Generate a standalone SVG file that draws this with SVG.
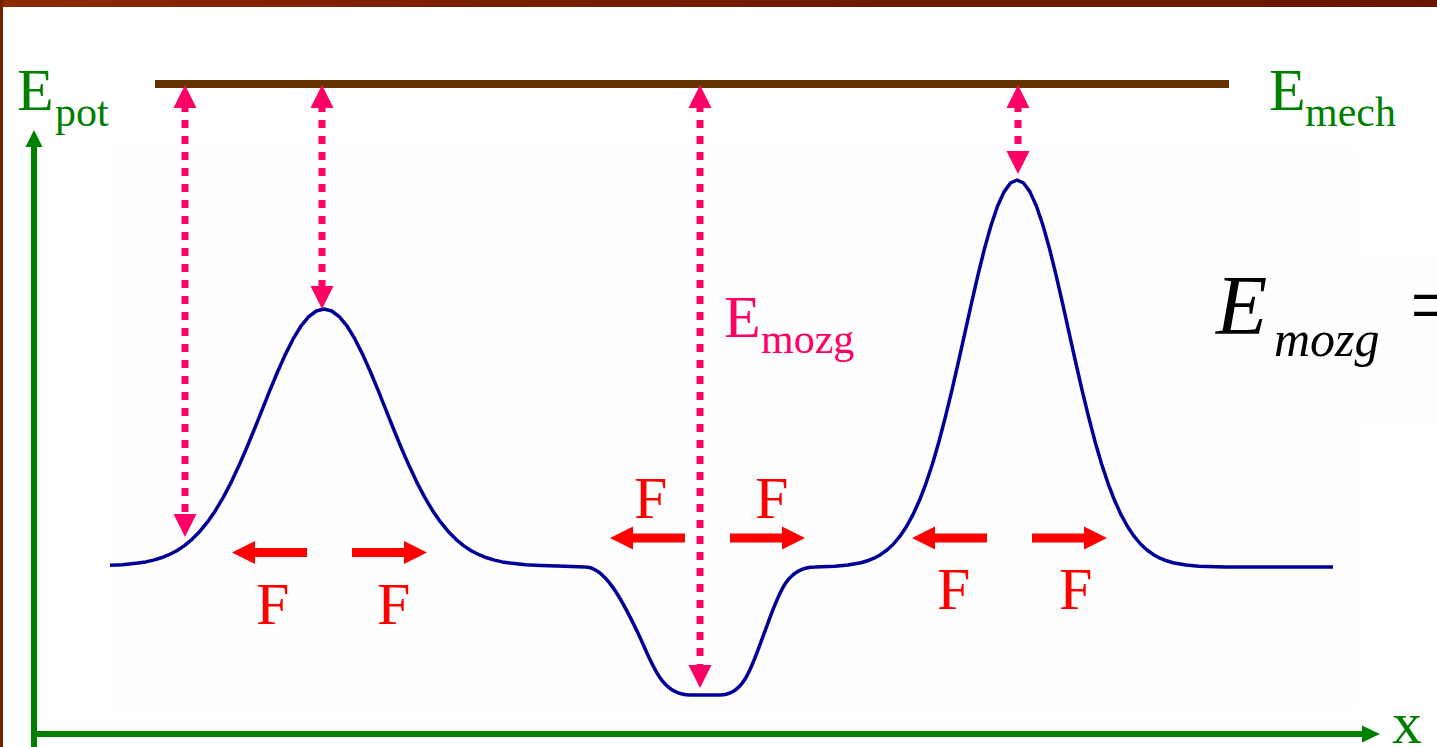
<svg xmlns="http://www.w3.org/2000/svg" xmlns:xlink="http://www.w3.org/1999/xlink" width="1437" height="747" viewBox="0 0 1437 747">
<style>
text{font-family:"Liberation Serif","Times New Roman",serif}
.green{fill:#008000}
.pink{fill:#ff0066}
.red{fill:#ff0000}
.dash{stroke:#ff0066;stroke-width:7;stroke-dasharray:8 8;fill:none}
.axis{stroke:#008000;stroke-width:6;fill:none}
.curve{stroke:#000099;stroke-width:3.5;fill:none;stroke-linejoin:round}
</style>
<defs>
<linearGradient id="wood" x1="0" y1="0" x2="1" y2="0">
<stop offset="0" stop-color="#8a2c06"/>
<stop offset="0.3" stop-color="#7a2000"/>
<stop offset="0.6" stop-color="#6e1a02"/>
<stop offset="1" stop-color="#6a1500"/>
</linearGradient>
<path id="fl" d="M0 0 L23 -11.5 L23 -4.5 L75 -4.5 L75 4.5 L23 4.5 L23 11.5 Z"/>
<path id="hu" d="M0 0 L-11.5 23 L11.5 23 Z"/>
</defs>
<rect width="1437" height="747" fill="#ffffff"/>
<rect x="0" y="0" width="1437" height="7" fill="url(#wood)"/>
<rect x="0" y="0" width="3" height="747" fill="#7a2000"/>
<rect x="110" y="145" width="1247" height="565" fill="#fefefe"/>
<rect x="1200" y="255" width="237" height="170" fill="#fefefe"/>

<g id="axes">
<line class="axis" x1="34" y1="747" x2="34" y2="146"/>
<polygon points="34,130 25.5,147 42.5,147" fill="#008000"/>
<line class="axis" x1="31" y1="734" x2="1363" y2="734"/>
<polygon points="1380,734 1362,725.5 1362,742.5" fill="#008000"/>
</g>

<g id="label-epot"><text class="green" x="17" y="110" font-size="60">E<tspan x="55" y="126" font-size="42">pot</tspan></text></g>
<g id="label-x"><text class="green" x="1392" y="743" font-size="60">x</text></g>

<g id="emech">
<line x1="155" y1="84" x2="1229" y2="84" stroke="#663300" stroke-width="8"/>
<text class="green" x="1269" y="110" font-size="60">E<tspan x="1305" y="126" font-size="42">mech</tspan></text>
</g>

<g id="potential-curve">
<path class="curve" d="M110 565.3 L122.5 564.7 L138 563.1 L145.75 561.9 L153.5 560.1 L161.25 557.8 L169 554.7 L176.75 550.7 L184.5 545.6 L192.25 539.1 L200 531.2 L207.75 521.7 L215.5 510.4 L223.25 497.4 L231 482.6 L238.75 466.1 L246.5 448.3 L254.25 429.5 L262 410.1 L269.75 390.7 L277.5 372 L285.25 354.6 L293 339.2 L300.75 326.4 L308.5 316.9 L316.25 311 L324 309 L331.75 311 L339.5 316.9 L347.25 326.4 L355 339.2 L362.75 354.6 L370.5 372 L378.25 390.7 L386 410.1 L393.75 429.5 L401.5 448.3 L409.25 466.1 L417 482.6 L424.75 497.4 L432.5 510.4 L440.25 521.7 L448 531.2 L455.75 539.1 L463.5 545.6 L471.25 550.7 L479 554.7 L486.75 557.8 L494.5 560.1 L502.25 561.9 L510 563.1 L525.5 564.7 L541 565.4 L565 566.3 L585 567 C605 567 622 600 637 631 C652 662 660 695 690 695 L720 695 C745 695 752 665 765 631 C778 597 785 567 815 567 L835 566.2 L848 565 L861 562.7 L867.5 560.8 L874 558.2 L880.5 554.7 L887 550 L893.5 544 L900 536.2 L906.5 526.5 L913 514.6 L919.5 500.3 L926 483.3 L932.5 463.7 L939 441.4 L945.5 416.5 L952 389.8 L958.5 361.5 L965 332.3 L971.5 303.1 L978 274.9 L984.5 248.6 L991 225.5 L997.5 206.3 L1004 191.9 L1010.5 183 L1017 180 L1023.5 183 L1030 191.9 L1036.5 206.3 L1043 225.5 L1049.5 248.6 L1056 274.9 L1062.5 303.1 L1069 332.3 L1075.5 361.5 L1082 389.8 L1088.5 416.5 L1095 441.4 L1101.5 463.7 L1108 483.3 L1114.5 500.3 L1121 514.6 L1127.5 526.5 L1134 536.2 L1140.5 544 L1147 550 L1153.5 554.7 L1160 558.2 L1166.5 560.8 L1173 562.7 L1186 565 L1199 566.2 L1225 567 L1333 567"/>
</g>

<g id="connectors">
<line class="dash" x1="185" y1="104" x2="185" y2="516"/>
<use xlink:href="#hu" href="#hu" x="185" y="85" class="pink"/>
<use xlink:href="#hu" href="#hu" transform="translate(185,537) scale(1,-1)" class="pink"/>
<line class="dash" x1="322" y1="104" x2="322" y2="288"/>
<use xlink:href="#hu" href="#hu" x="322" y="85" class="pink"/>
<use xlink:href="#hu" href="#hu" transform="translate(322,309) scale(1,-1)" class="pink"/>
<line class="dash" x1="700" y1="104" x2="700" y2="667"/>
<use xlink:href="#hu" href="#hu" x="700" y="85" class="pink"/>
<use xlink:href="#hu" href="#hu" transform="translate(700,688) scale(1,-1)" class="pink"/>
<line class="dash" x1="1018" y1="104" x2="1018" y2="152"/>
<use xlink:href="#hu" href="#hu" x="1018" y="85" class="pink"/>
<use xlink:href="#hu" href="#hu" transform="translate(1018,174) scale(1,-1)" class="pink"/>
</g>

<g id="label-emozg"><text class="pink" x="724" y="337" font-size="60">E<tspan x="761" y="353" font-size="42">mozg</tspan></text></g>

<g id="forces-left">
<use xlink:href="#fl" href="#fl" transform="translate(232,552.5)" class="red"/>
<use xlink:href="#fl" href="#fl" transform="translate(427,552.5) scale(-1,1)" class="red"/>
<text class="red" x="256" y="624" font-size="60">F</text>
<text class="red" x="377" y="624" font-size="60">F</text>
</g>
<g id="forces-middle">
<use xlink:href="#fl" href="#fl" transform="translate(610,538)" class="red"/>
<use xlink:href="#fl" href="#fl" transform="translate(805,538) scale(-1,1)" class="red"/>
<text class="red" x="634" y="518" font-size="60">F</text>
<text class="red" x="755" y="518" font-size="60">F</text>
</g>
<g id="forces-right">
<use xlink:href="#fl" href="#fl" transform="translate(912,538)" class="red"/>
<use xlink:href="#fl" href="#fl" transform="translate(1107,538) scale(-1,1)" class="red"/>
<text class="red" x="937" y="609" font-size="60">F</text>
<text class="red" x="1059" y="609" font-size="60">F</text>
</g>

<g id="formula">
<text x="1216" y="334" font-size="84" font-style="italic" fill="#000000">E<tspan x="1274" y="356" font-size="50">mozg</tspan></text>
<text x="1410" y="334" font-size="84" fill="#000000">=</text>
</g>
</svg>
